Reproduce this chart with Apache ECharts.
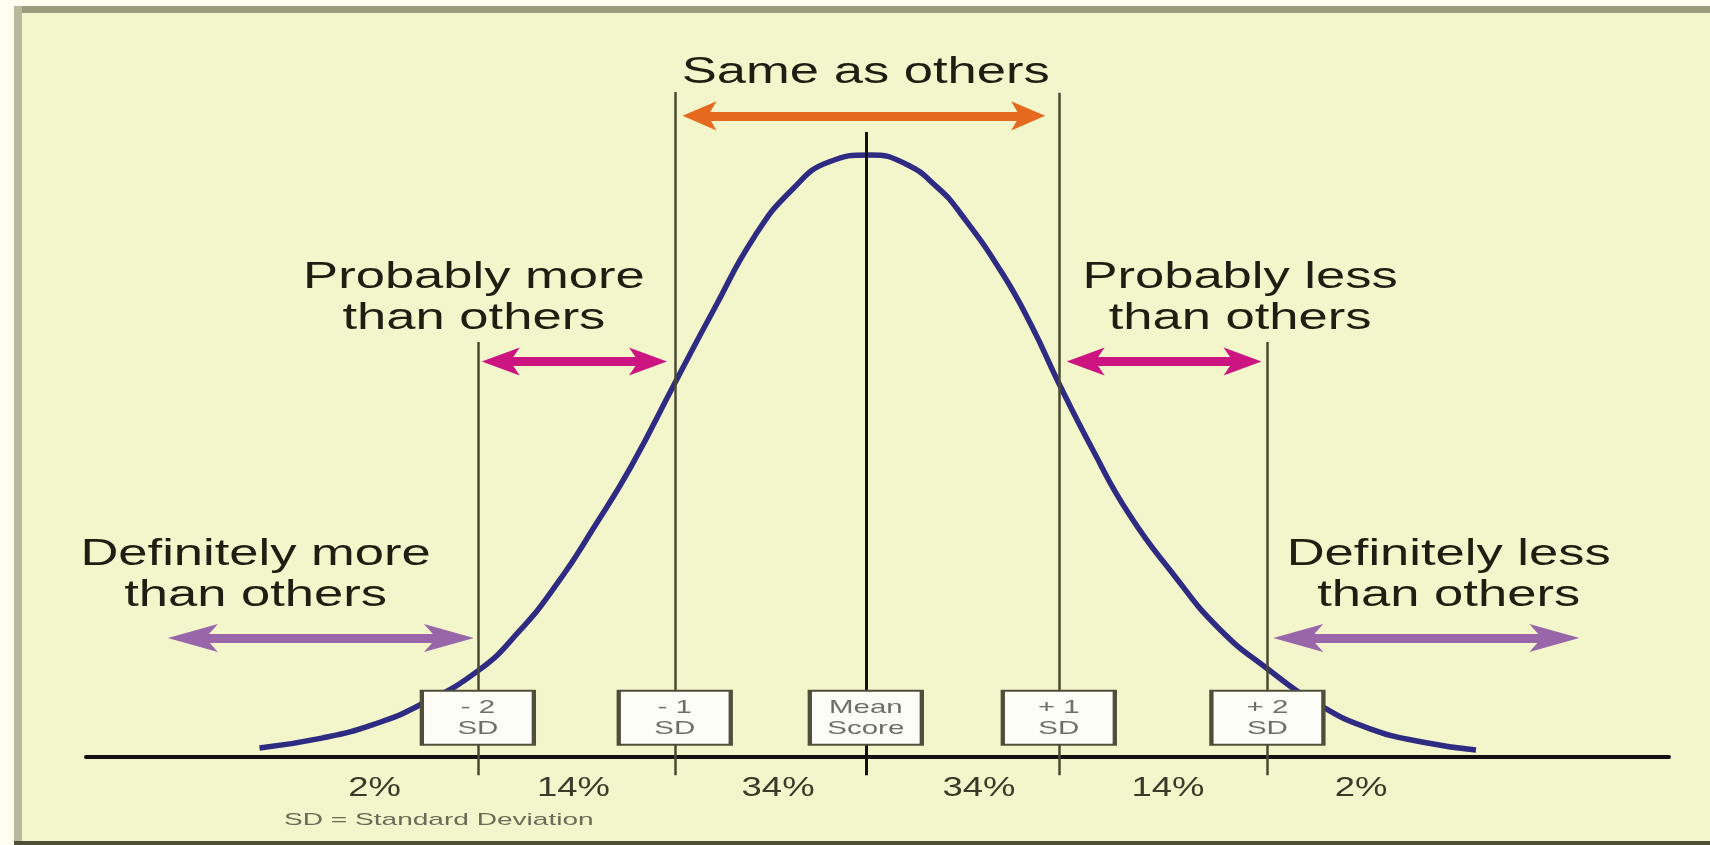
<!DOCTYPE html>
<html>
<head>
<meta charset="utf-8">
<title>Standard deviation curve</title>
<script src="https://cdn.jsdelivr.net/npm/echarts@6/dist/echarts.min.js"></script>
<style>
  html, body { margin: 0; padding: 0; background: #fdfdf0; }
  #myChart { width: 1710px; height: 845px; }
</style>
</head>
<body>
<div id="myChart"></div>
<script>
// bell curve (x in SD from the mean, y in height units)
const curveX = [-3.11, -2.79, -2.52, -2.29, -1.99, -1.78, -1.58, -1.39, -1.20, -0.98, -0.78, -0.57, -0.38, -0.19, 0.02,
                0.20, 0.37, 0.49, 0.70, 0.85, 0.99, 1.16, 1.35, 1.58, 1.81, 2.06, 2.33, 2.58, 2.86, 3.13];
const curveY = [1.3, 2.7, 4.7, 7.4, 12.3, 17.9, 24.9, 33.0, 41.7, 53.4, 63.9, 74.4, 81.0, 85.0, 86.0,
                84.8, 81.3, 77.5, 69.1, 61.6, 53.4, 44.1, 34.7, 26.0, 18.4, 12.6, 7.4, 4.1, 2.1, 1.0];

// SD marker lines and their boxes
const sdPos = [-1.99, -0.98, 0, 0.99, 2.06];
const sdTop = [59.3, 95.0, 89.3, 94.9, 59.3];
const sdBoxLabels = ['- 2\nSD', '- 1\nSD', 'Mean\nScore', '+ 1\nSD', '+ 2\nSD'];

// share of scores between the lines
const pctLabels = ['2%', '14%', '34%', '34%', '14%', '2%'];
const pctPos = [-2.52, -1.50, -0.45, 0.58, 1.55, 2.54];

// double arrows: [from tip, to tip, height]
const sameArrow = [[-0.94, 0.92, 91.6]];
const probablyArrows = [[-1.97, -1.02, 56.5], [1.03, 2.03, 56.5]];
const definitelyArrows = [[-3.58, -2.01, 17.0], [2.09, 3.66, 17.0]];

// captions
const noteText = ['Same as others', 'Probably more\nthan others', 'Probably less\nthan others',
                  'Definitely more\nthan others', 'Definitely less\nthan others'];
const noteX = [0, -2.01, 1.92, -3.13, 2.99];
const noteY = [97.7, 65.6, 65.6, 26.0, 26.0];

const GRID = { left: 86, right: 41, top: 57, bottom: 4 };
const X_MIN = -4, X_MAX = 4.12;
const pxPerSD = (1710 - GRID.left - GRID.right) / (X_MAX - X_MIN);
const BOX_Y = 5.6;
const TICK_BOTTOM = -2.6;
const PCT_Y = -4.5;
const SHAFT_W = 9;
const FONT = '"Liberation Sans", Arial, sans-serif';

const chart = echarts.init(document.getElementById('myChart'));

function arrowSeries(spans, color, size) {
  // the head's tip sits on the end point; stop the shaft short so the point stays sharp
  const insetPx = (SHAFT_W / 2) * size[1] / (size[0] * 2 / 3) + 2;
  const d = insetPx / pxPerSD;
  const base = { type: 'line', data: [], silent: true, z: 4 };
  return [
    Object.assign({}, base, {
      markLine: {
        silent: true, animation: false, symbol: 'none', label: { show: false },
        lineStyle: { type: 'solid', width: SHAFT_W, color: color, opacity: 1 },
        data: spans.map(s => [{ coord: [s[0] + d, s[2]] }, { coord: [s[1] - d, s[2]] }])
      }
    }),
    Object.assign({}, base, {
      markLine: {
        silent: true, animation: false,
        symbol: ['arrow', 'arrow'], symbolSize: size, label: { show: false },
        lineStyle: { type: 'solid', width: 0, color: color, opacity: 1 },
        data: spans.map(s => [{ coord: [s[0], s[2]] }, { coord: [s[1], s[2]] }])
      }
    })
  ];
}

chart.setOption({
  animation: false,
  backgroundColor: 'transparent',
  grid: GRID,
  xAxis: {
    type: 'value', min: X_MIN, max: X_MAX,
    axisLine: { show: true, onZero: true, lineStyle: { color: '#111', width: 4 } },
    axisTick: { show: false }, axisLabel: { show: false }, splitLine: { show: false }
  },
  yAxis: { type: 'value', min: -12, max: 100, show: false, splitLine: { show: false } },
  series: [
    {
      type: 'line', data: [], z: 2, silent: true,
      markLine: {
        silent: true, animation: false, symbol: 'none', label: { show: false },
        data: sdPos.map((x, i) => [
          { coord: [x, sdTop[i]], lineStyle: { type: 'solid', width: i === 2 ? 3 : 2.5, color: i === 2 ? '#111' : '#4a4a32' } },
          { coord: [x, TICK_BOTTOM] }
        ])
      }
    },
    {
      type: 'line', z: 3, smooth: 0.5, showSymbol: false, silent: true,
      lineStyle: { color: '#2e2b82', width: 5.5 },
      data: curveX.map((x, i) => [x, curveY[i]])
    },
    {
      type: 'scatter', z: 5, silent: true,
      symbol: 'rect', symbolSize: [112, 54],
      itemStyle: { color: '#fdfdf7', borderColor: '#4e4e3a', borderWidth: 3, opacity: 1 },
      data: sdPos.map(x => [x, BOX_Y])
    },
    ...arrowSeries(sameArrow, '#e5691f', [22, 34]),
    ...arrowSeries(probablyArrows, '#cc1580', [21, 38]),
    ...arrowSeries(definitelyArrows, '#9966aa', [21, 50])
  ]
});

// texts are placed from data coordinates, stretched wide like the original
const toPx = (x, y) => chart.convertToPixel({ gridIndex: 0 }, [x, y]);
function textEl(text, p, size, lineHeight, scaleX, color) {
  return {
    type: 'text', x: p[0], y: p[1], scaleX: scaleX, z: 100, silent: true,
    style: {
      text: text, fontSize: size, fontFamily: FONT, lineHeight: lineHeight,
      fill: color, align: 'center', verticalAlign: 'middle'
    }
  };
}

const graphics = [
  // frame
  { type: 'rect', z: -1, shape: { x: 22, y: 13, width: 1688, height: 829 }, style: { fill: '#f3f6cb' } },
  { type: 'rect', z: -1, shape: { x: 14, y: 6, width: 1696, height: 7 }, style: { fill: '#9a9c80' } },
  { type: 'rect', z: -1, shape: { x: 14, y: 6, width: 8, height: 839 }, style: { fill: '#b7b99f' } },
  { type: 'rect', z: -1, shape: { x: 14, y: 841, width: 1696, height: 4 }, style: { fill: '#4f4f38' } }
];
noteText.forEach((t, i) => graphics.push(textEl(t, toPx(noteX[i], noteY[i]), 37, 41, 1.42, '#1e1e12')));
pctLabels.forEach((t, i) => graphics.push(textEl(t, toPx(pctPos[i], PCT_Y), 27, 30, 1.35, '#3a3a2a')));
sdBoxLabels.forEach((t, i) => graphics.push(textEl(t, toPx(sdPos[i], BOX_Y), 19, 21, 1.55, '#6e6e66')));
graphics.push(textEl('SD = Standard Deviation', toPx(-2.19, -9.0), 17, 20, 1.65, '#6b6b58'));

chart.setOption({ graphic: graphics });
</script>
</body>
</html>
